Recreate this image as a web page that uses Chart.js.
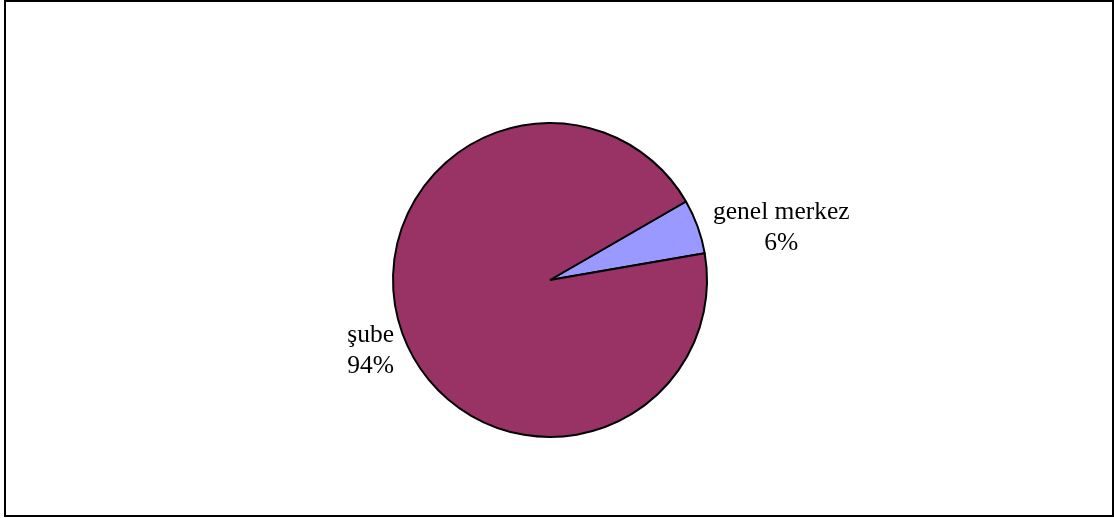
<!DOCTYPE html>
<html>
<head>
<meta charset="utf-8">
<script src="https://cdn.jsdelivr.net/npm/chart.js@4/dist/chart.umd.min.js"></script>
<style>
  html, body { margin: 0; padding: 0; background: #fff; }
  #wrap { position: relative; width: 1114px; height: 518px; }
  #frame { position: absolute; left: 4px; top: 0px; width: 1106px; height: 513px; border: 2px solid #000; box-sizing: content-box; }
  canvas { position: absolute; left: 0; top: 0; }
</style>
</head>
<body>
<div id="wrap">
  <div id="frame"></div>
  <canvas id="pieChart" width="1114" height="518"></canvas>
</div>
<script>
// pie data
const categories = ['genel merkez', 'şube'];
const shares = [5.6, 94.4];
const pctLabels = ['6%', '94%'];
const sliceColors = ['#9999FF', '#993366'];

// draws "name / pct" outside each slice, like excel's outside-end labels
const outsideLabels = {
  id: 'outsideLabels',
  afterDatasetsDraw(chart) {
    const ctx = chart.ctx;
    const meta = chart.getDatasetMeta(0);
    ctx.save();
    ctx.font = '25.5px "Liberation Serif", "Times New Roman", serif';
    ctx.fillStyle = '#000';
    ctx.textBaseline = 'middle';
    meta.data.forEach((arc, i) => {
      const { x, y, startAngle, endAngle, outerRadius } = arc.getProps(['x', 'y', 'startAngle', 'endAngle', 'outerRadius'], true);
      const mid = (startAngle + endAngle) / 2;
      const r = outerRadius + 10;
      const ax = x + Math.cos(mid) * r;
      const ay = y + Math.sin(mid) * r;
      const lines = [categories[i], pctLabels[i]];
      const w = Math.max(...lines.map(l => ctx.measureText(l).width));
      const lineH = 31;
      const left = Math.cos(mid) >= 0 ? ax + 6 : ax - w + 1;
      // block centre sits a bit below the anchor, more so for lower slices
      const cy = ay + 9 + 14 * Math.sin(mid);
      const top = cy - lineH;
      ctx.textAlign = 'center';
      lines.forEach((l, k) => ctx.fillText(l, left + w / 2, top + k * lineH + lineH / 2));
    });
    ctx.restore();
  }
};

new Chart(document.getElementById('pieChart'), {
  type: 'pie',
  data: {
    labels: categories,
    datasets: [{
      data: shares,
      backgroundColor: sliceColors,
      borderColor: '#000',
      borderWidth: 2
    }]
  },
  options: {
    responsive: false,
    animation: false,
    rotation: 60,
    radius: 157,
    layout: { padding: { left: 0, right: 14, top: 42, bottom: 0 } },
    plugins: {
      legend: { display: false },
      tooltip: { enabled: false }
    }
  },
  plugins: [outsideLabels]
});
</script>
</body>
</html>
